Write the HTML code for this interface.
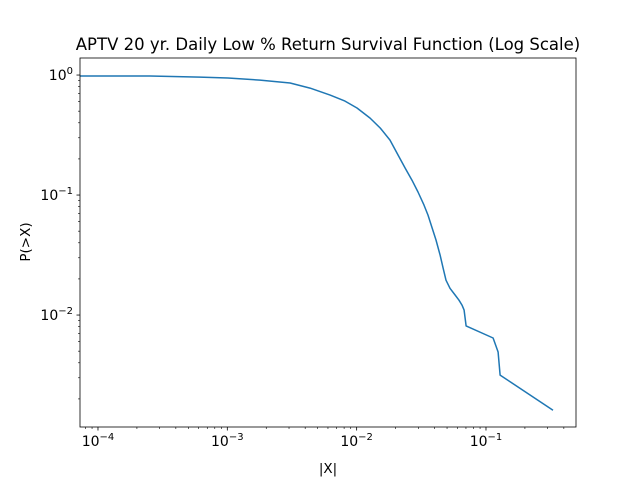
<!DOCTYPE html>
<html><head><meta charset="utf-8"><style>
body{margin:0;background:#fff;}
svg{display:block;font-family:"DejaVu Sans","Liberation Sans",sans-serif;}
</style></head><body>
<svg id="chart" width="640" height="480"></svg>
<script>
const xValues=[7.26e-5,2.52e-4,6.15e-4,1.01e-3,1.79e-3,3.06e-3,4.36e-3,6.23e-3,8.13e-3,1.007e-2,1.27e-2,1.52e-2,1.81e-2,2.09e-2,2.37e-2,2.68e-2,2.98e-2,3.32e-2,3.56e-2,3.83e-2,4.11e-2,4.42e-2,4.66e-2,4.91e-2,5.27e-2,5.77e-2,6.19e-2,6.53e-2,6.77e-2,7.02e-2,0.1135,0.124,0.1286,0.330];
const yValues=[0.981,0.981,0.962,0.944,0.908,0.858,0.779,0.681,0.607,0.531,0.438,0.362,0.287,0.215,0.168,0.133,0.106,0.0825,0.0681,0.0532,0.0422,0.0316,0.0246,0.0195,0.0167,0.0147,0.0133,0.0121,0.0110,0.00812,0.00644,0.00492,0.00316,0.00161];
const xTickExps=[-4,-3,-2,-1];
const yTickExps=[0,-1,-2];

const NS="http://www.w3.org/2000/svg";
const svg=document.getElementById('chart');
const L=80,R=576,T=58,B=427;
const xLogMin=-4.139,xLogMax=-0.304,yLogMin=-2.933,yLogMax=0.142;
const sx=v=>L+(Math.log10(v)-xLogMin)/(xLogMax-xLogMin)*(R-L);
const sy=v=>B-(Math.log10(v)-yLogMin)/(yLogMax-yLogMin)*(B-T);
function mk(tag,attrs,parent){const e=document.createElementNS(NS,tag);for(const k in attrs)e.setAttribute(k,attrs[k]);(parent||svg).appendChild(e);return e;}

// ticks
for(let d=-5;d<=0;d++){for(let m=1;m<10;m++){const v=m*Math.pow(10,d);const x=sx(v);if(x<L-0.1||x>R+0.1)continue;
 const t=mk('line',{x1:x,x2:x,y1:B,y2:B+(m==1?3.5:2),stroke:'#000','stroke-width':m==1?0.8:0.6});
 }}
for(let d=-3;d<=0;d++){for(let m=1;m<10;m++){const v=m*Math.pow(10,d);const y=sy(v);if(y<T-0.1||y>B+0.1)continue;
 const t=mk('line',{x1:L-(m==1?3.5:2),x2:L,y1:y,y2:y,stroke:'#000','stroke-width':m==1?0.8:0.6});
 }}
xTickExps.forEach(e=>{const x=sx(Math.pow(10,e));
 const t=mk('text',{x:x,y:B+19,'text-anchor':'middle','font-size':'14'});
 
 t.innerHTML='10<tspan dy="-6" font-size="10">\u2212'+(-e)+'</tspan>';});
yTickExps.forEach(e=>{const y=sy(Math.pow(10,e));
 const t=mk('text',{x:L-7,y:y+5,'text-anchor':'end','font-size':'14'});
 
 t.innerHTML='10<tspan dy="-6" font-size="10">'+(e<0?'\u2212'+(-e):'0')+'</tspan>';});

// line
const pts=xValues.map((v,i)=>sx(v).toFixed(1)+','+sy(yValues[i]).toFixed(1)).join(' ');
const line=mk('polyline',{points:pts,fill:'none',stroke:'#1f77b4','stroke-width':1.5,'stroke-linejoin':'round'});



const frame=mk('rect',{x:L,y:T,width:R-L,height:B-T,fill:'none',stroke:'#000','stroke-width':0.8});



const title=mk('text',{x:(L+R)/2,y:50,'text-anchor':'middle','font-size':'16.5'});
title.textContent='APTV 20 yr. Daily Low % Return Survival Function (Log Scale)';


const xl=mk('text',{x:(L+R)/2,y:473,'text-anchor':'middle','font-size':'13.5'});
xl.textContent='|X|';


const yl=mk('text',{x:0,y:0,'text-anchor':'middle','font-size':'13.5',transform:'translate(30,242) rotate(-90)'});
yl.textContent='P(>X)';


</script>
</body></html>
